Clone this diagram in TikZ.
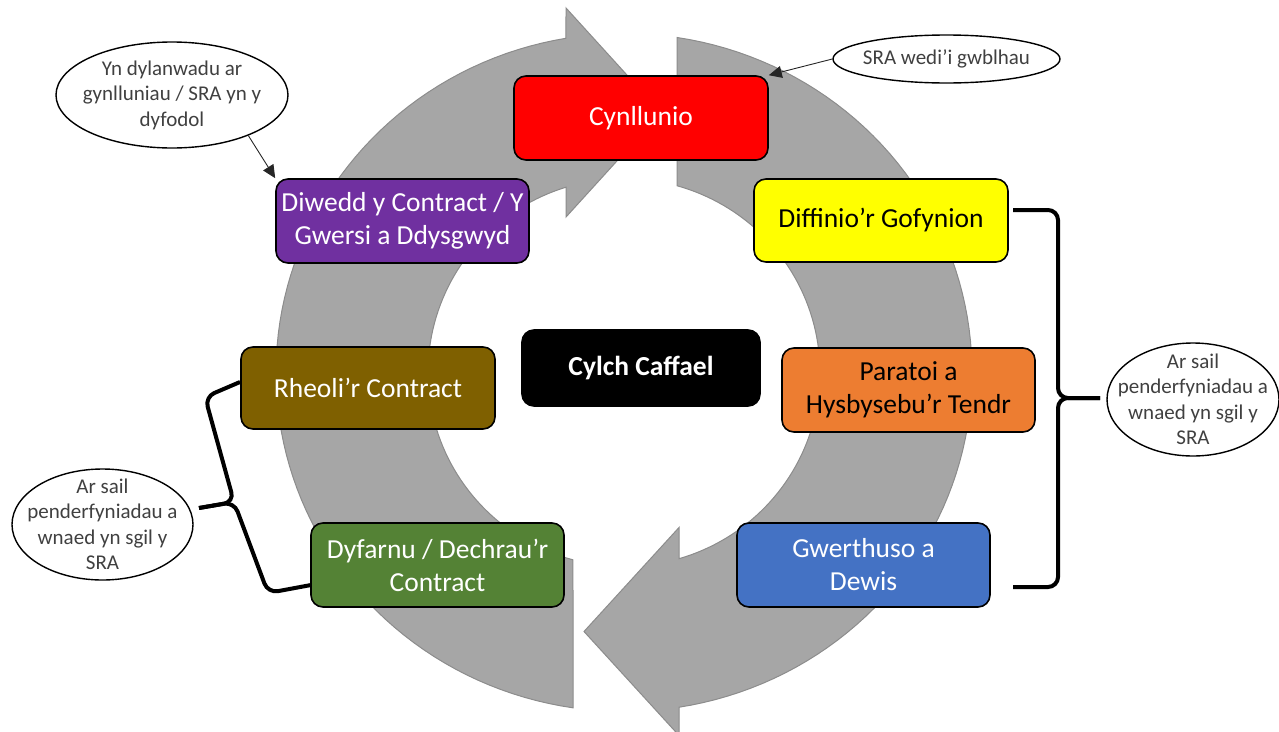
\documentclass[tikz,border=0pt]{standalone}
\usepackage{fontspec}
\setmainfont{Carlito}
\usetikzlibrary{arrows.meta,shapes.geometric}
\definecolor{arrowgray}{HTML}{A6A6A6}
\definecolor{arrowedge}{HTML}{8C8C8C}
\definecolor{cred}{HTML}{FF0000}
\definecolor{cyellow}{HTML}{FFFF00}
\definecolor{corange}{HTML}{ED7D31}
\definecolor{cblue}{HTML}{4472C4}
\definecolor{cgreen}{HTML}{548235}
\definecolor{cbrown}{HTML}{7F6000}
\definecolor{cpurple}{HTML}{7030A0}
\definecolor{textgray}{HTML}{404040}
\begin{document}
\begin{tikzpicture}[x=1pt,y=-1pt,
  ringarrow/.style={fill=arrowgray, draw=arrowedge, line width=1pt},
  stage/.style={draw=black, line width=1.6pt, rounded corners=12pt,
    minimum width=254pt, minimum height=84pt, inner sep=0pt, align=center,
    font=\fontsize{27.5}{33}\selectfont},
  bubble/.style={ellipse, draw=black, line width=1.4pt, fill=white, inner sep=0pt},
  bubbletext/.style={align=center, text=textgray, inner sep=0pt,
    font=\fontsize{21}{25.5}\selectfont},
  conn/.style={line width=0.9pt, draw=black!85, -{Triangle[length=13pt,width=12pt]}},
  bracestyle/.style={line width=4pt, draw=black, rounded corners=10pt}
]
\useasboundingbox (0,0) rectangle (1279,731);

% circular arrows
\filldraw[ringarrow]
  plot[domain=98.4:260.4, samples=80, variable=\t] ({624+348*cos(\t)},{372.5+339*sin(\t)})
  -- (566,8) -- (661,112.5) -- (566,217)
  -- plot[domain=252.8:105.1, samples=80, variable=\t] ({624+196*cos(\t)},{372.5+194*sin(\t)})
  -- cycle;
\filldraw[ringarrow]
  plot[domain=-81.2:80.9, samples=80, variable=\t] ({624+348*cos(\t)},{372.5+339*sin(\t)})
  -- (679,735.5) -- (584,631.5) -- (679,527.5)
  -- plot[domain=73.7:-74.3, samples=80, variable=\t] ({624+196*cos(\t)},{372.5+194*sin(\t)})
  -- cycle;

% stages
\node[stage, fill=cred, text=white] (cyn) at (641,118) {Cynllunio};
\node[stage, fill=cyellow, text=black, minimum height=83pt] (diff) at (881,220.5) {Diffinio’r Gofynion};
\node[stage, fill=corange, text=black, minimum width=253pt] (para) at (908.5,390) {Paratoi a\\Hysbysebu’r Tendr};
\node[stage, fill=cblue, text=white, minimum width=253pt] (gwer) at (863.5,565) {Gwerthuso a\\Dewis};
\node[stage, fill=cgreen, text=white, minimum width=253pt] (dyf) at (437.5,565) {Dyfarnu / Dechrau’r\\Contract};
\node[stage, fill=cbrown, text=white, minimum height=82pt] (rheo) at (368,388) {Rheoli’r Contract};
\node[stage, fill=cpurple, text=white, minimum width=253pt] (diw) at (402.5,221) {Diwedd y Contract / Y\\Gwersi a Ddysgwyd};
\node[stage, fill=black, text=white, minimum width=238pt, minimum height=76pt,
  font=\fontsize{27.5}{33}\selectfont\bfseries] (cylch) at (641,368) {Cylch Caffael};

% bubbles
\node[bubble, minimum width=227pt, minimum height=48pt] (e1) at (946.5,59) {};
\node[bubbletext] (e1t) at (e1) {SRA wedi’i gwblhau};
\node[bubble, minimum width=232pt, minimum height=106pt] (e2) at (172,95) {};
\node[bubbletext] (e2t) at (e2) {Yn dylanwadu ar\\gynlluniau / SRA yn y\\dyfodol};
\node[bubble, minimum width=172pt, minimum height=113pt] (e3) at (1193,399.5) {};
\node[bubbletext] (e3t) at (e3) {Ar sail\\penderfyniadau a\\wnaed yn sgil y\\SRA};
\node[bubble, minimum width=181pt, minimum height=111pt] (e4) at (102.5,524.5) {};
\node[bubbletext] (e4t) at (e4) {Ar sail\\penderfyniadau a\\wnaed yn sgil y\\SRA};

% connectors
\draw[conn] (e1.west) -- (cyn.north east);
\draw[conn] (e2.-28) -- (diw.north west);

% right brace
\coordinate (rbtop) at (1013,210);
\coordinate (rbbot) at (1013,587);
\coordinate (rbtip) at (1100,398);
\draw[bracestyle] (rbtop) -- (1058,210) -- (1058,398) -- (rbtip);
\draw[bracestyle] (rbtip) -- (1058,398) -- (1058,587) -- (rbbot);

% left brace
\coordinate (lbtop) at (240,382);
\coordinate (lbbot) at (311,585);
\coordinate (lbtip) at (199,508);
\draw[bracestyle] (lbtop) -- (205,397) -- (234,502) -- (lbtip);
\draw[bracestyle] (lbtip) -- (234,502) -- (268,593) -- (lbbot);
\end{tikzpicture}
\end{document}
